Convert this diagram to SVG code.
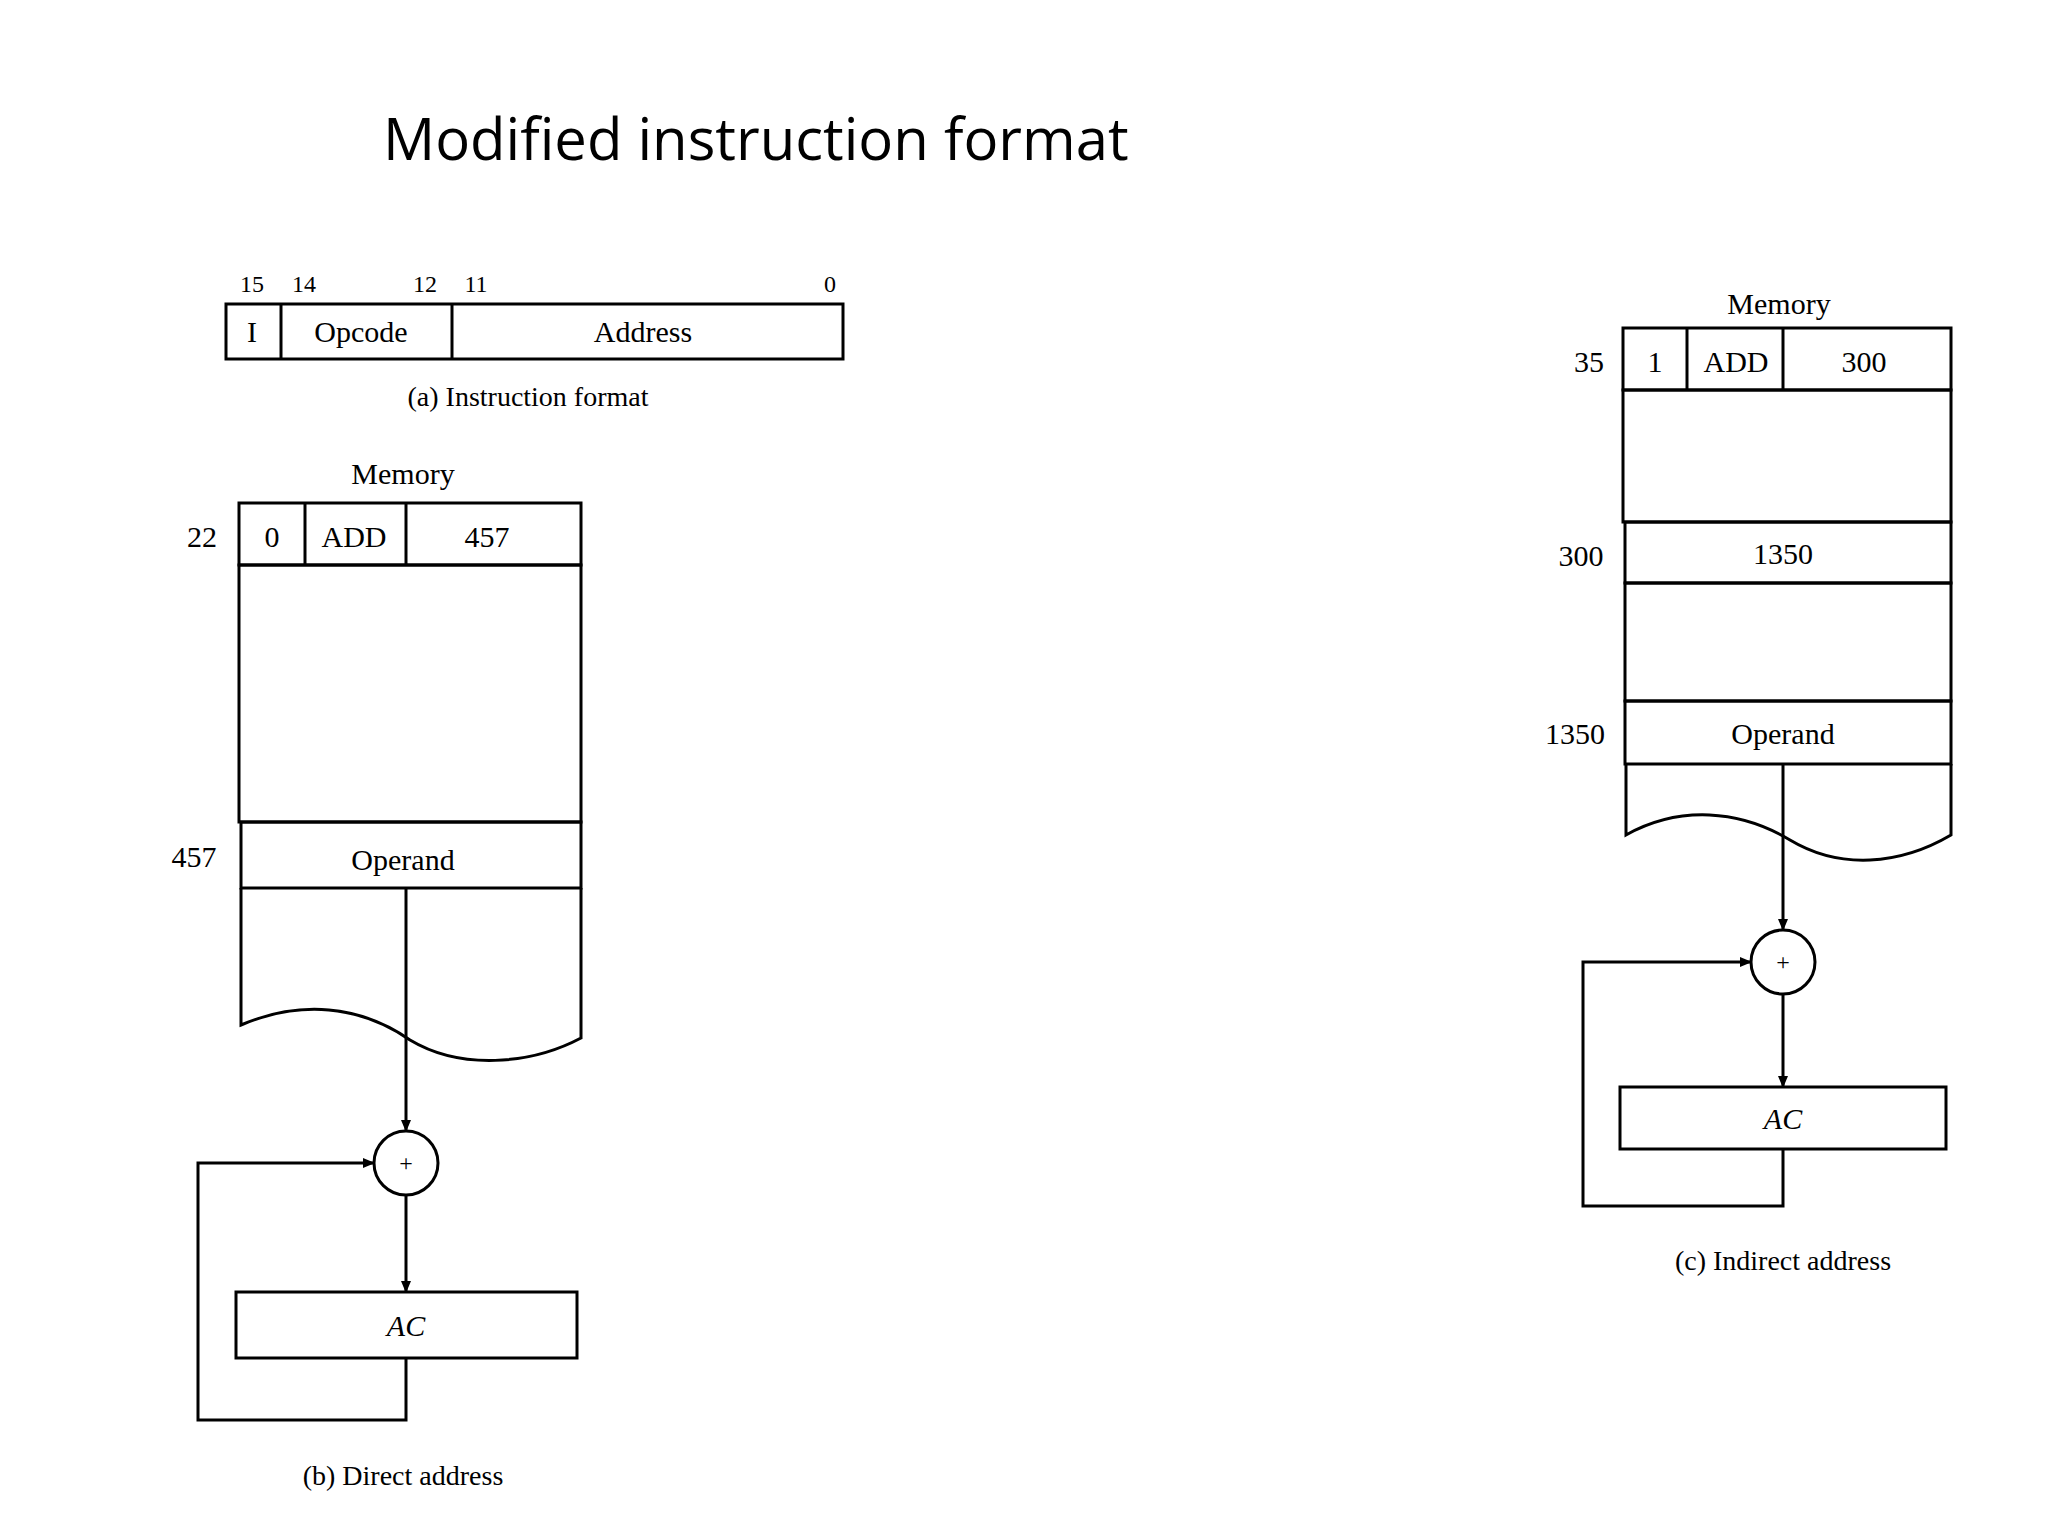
<svg xmlns="http://www.w3.org/2000/svg" width="2048" height="1536" viewBox="0 0 2048 1536">
<style>
.b{fill:none;stroke:#000;stroke-width:3}
.t{font-family:"Liberation Serif",serif;font-size:30px;text-anchor:middle;fill:#000}
.s{font-family:"Liberation Serif",serif;font-size:24px;text-anchor:middle;fill:#000}
.c{font-family:"Liberation Serif",serif;font-size:28px;text-anchor:middle;fill:#000}
</style>
<defs><marker id="a" markerWidth="12" markerHeight="10" refX="11" refY="5" orient="auto" markerUnits="userSpaceOnUse"><path d="M0,0 L12,5 L0,10 Z"/></marker></defs>
<rect width="2048" height="1536" fill="#fff"/>
<text x="383" y="160" font-family="Open Sans,sans-serif" font-size="58">Modified instruction format</text>
<g id="instr">
<rect class="b" x="226" y="304" width="617" height="55"/>
<line class="b" x1="281" y1="304" x2="281" y2="359"/><line class="b" x1="452" y1="304" x2="452" y2="359"/>
<text class="s" x="252" y="292">15</text><text class="s" x="304" y="292">14</text><text class="s" x="425" y="292">12</text><text class="s" x="476" y="292">11</text><text class="s" x="830" y="292">0</text>
<text class="t" x="252" y="342">I</text><text class="t" x="361" y="342">Opcode</text><text class="t" x="643" y="342">Address</text>
<text class="c" x="528" y="406">(a) Instruction format</text>
</g>
<g id="memB">
<text class="t" x="403" y="484">Memory</text>
<rect class="b" x="239" y="503" width="342" height="62"/>
<line class="b" x1="305" y1="503" x2="305" y2="565"/><line class="b" x1="406" y1="503" x2="406" y2="565"/>
<text class="t" x="202" y="547">22</text><text class="t" x="272" y="547">0</text><text class="t" x="354" y="547">ADD</text><text class="t" x="487" y="547">457</text>
<rect class="b" x="239" y="565" width="342" height="257"/>
<rect class="b" x="241" y="822" width="340" height="66"/>
<text class="t" x="194" y="867">457</text><text class="t" x="403" y="870">Operand</text>
<path class="b" d="M241,888 V1025 C300,1000 360,1005 410,1040 C460,1070 530,1065 581,1038 V888"/>
</g>
<g id="addB"><circle class="b" cx="406" cy="1163" r="32"/><text class="s" x="406" y="1171">+</text></g>
<g id="acB"><rect class="b" x="236" y="1292" width="341" height="66"/><text class="t" x="406" y="1336" font-style="italic">AC</text>
<text class="c" x="403" y="1485">(b) Direct address</text></g>
<g id="memC">
<text class="t" x="1779" y="314">Memory</text>
<rect class="b" x="1623" y="328" width="328" height="62"/>
<line class="b" x1="1687" y1="328" x2="1687" y2="390"/><line class="b" x1="1783" y1="328" x2="1783" y2="390"/>
<text class="t" x="1589" y="372">35</text><text class="t" x="1655" y="372">1</text><text class="t" x="1736" y="372">ADD</text><text class="t" x="1864" y="372">300</text>
<rect class="b" x="1623" y="390" width="328" height="132"/>
<rect class="b" x="1625" y="522" width="326" height="61"/>
<text class="t" x="1581" y="566">300</text><text class="t" x="1783" y="564">1350</text>
<rect class="b" x="1625" y="583" width="326" height="118"/>
<rect class="b" x="1625" y="701" width="326" height="63"/>
<text class="t" x="1575" y="744">1350</text><text class="t" x="1783" y="744">Operand</text>
<path class="b" d="M1626,764 V835 C1680,805 1740,810 1790,840 C1840,870 1900,865 1951,835 V764"/>
</g>
<g id="addC"><circle class="b" cx="1783" cy="962" r="32"/><text class="s" x="1783" y="970">+</text></g>
<g id="acC"><rect class="b" x="1620" y="1087" width="326" height="62"/><text class="t" x="1783" y="1129" font-style="italic">AC</text>
<text class="c" x="1783" y="1270">(c) Indirect address</text></g>
<g id="connectors" class="b" marker-end="url(#a)">
<path class="b" d="M406,888 V1131" marker-end="url(#a)"/>
<path class="b" d="M406,1195 V1292" marker-end="url(#a)"/>
<path class="b" d="M406,1358 V1420 H198 V1163 H374" marker-end="url(#a)"/>
<path class="b" d="M1783,764 V930" marker-end="url(#a)"/>
<path class="b" d="M1783,994 V1087" marker-end="url(#a)"/>
<path class="b" d="M1783,1149 V1206 H1583 V962 H1751" marker-end="url(#a)"/>
</g>
</svg>
